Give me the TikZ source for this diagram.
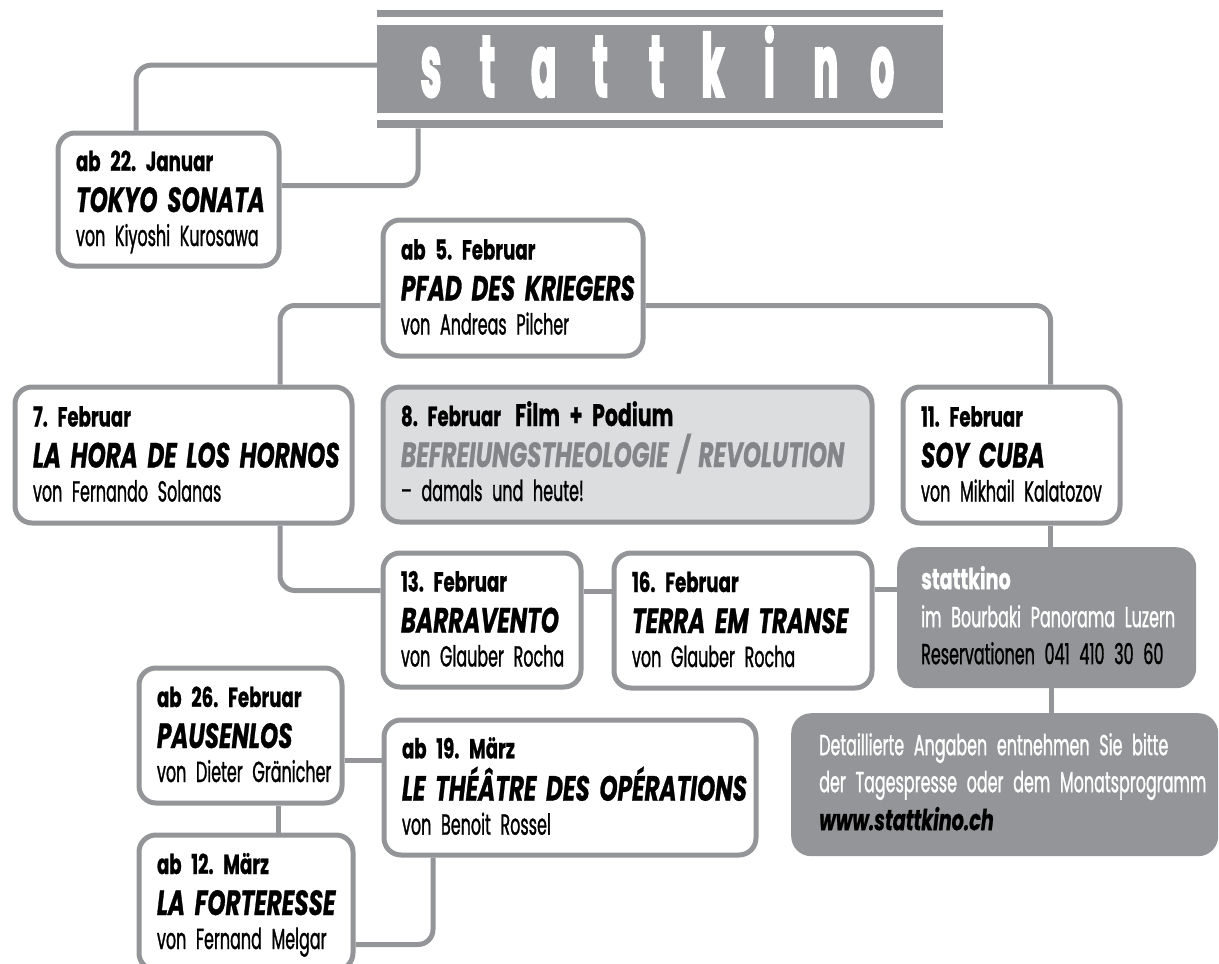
\documentclass[tikz,border=0pt]{standalone}
\usepackage{fontspec}
\setmainfont{Poppins}[FakeStretch=0.55, WordSpace=0.6, FakeBold=1]
\newfontfamily\heavyf{Poppins}[FakeStretch=0.66, WordSpace=0.6, FakeBold=0.8]
\newfontfamily\logofont{Poppins}[FakeStretch=0.42, FakeBold=2]
\usetikzlibrary{positioning}

\definecolor{kgray}{HTML}{939598}
\definecolor{podfill}{HTML}{DCDDDF}
\definecolor{podtext}{HTML}{838588}

\newcommand\datef{\heavyf\fontsize{27.5}{34}\selectfont\bfseries}
\newcommand\titlef{\heavyf\fontsize{35}{34}\selectfont\bfseries\itshape}
\newcommand\film[3]{\rule{0pt}{26pt}\mbox{\datef #1}\\[7pt]\mbox{\titlef #2}\\\mbox{#3}\rule[-8pt]{0pt}{8pt}}

\begin{document}
\frenchspacing
\begin{tikzpicture}[x=1pt,y=-1pt,
    film/.style={draw=kgray, line width=5pt, rounded corners=17pt, fill=white, anchor=north west,
        inner xsep=18pt, inner ysep=0pt, align=left, font=\fontsize{29}{34}\selectfont},
    infobox/.style={fill=kgray, rounded corners=20pt, anchor=north west, inner xsep=24pt,
        inner ysep=0pt, align=left, text=white, font=\fontsize{29}{34}\selectfont},
    bar/.style={fill=kgray, inner sep=0pt, anchor=north west, minimum width=566pt},
    logo/.style={text=white, font=\logofont\fontsize{88}{88}\selectfont\bfseries, anchor=base, inner sep=0pt},
    link/.style={draw=kgray, line width=5pt, rounded corners=15pt}]
    \useasboundingbox (0,0) rectangle (1219,964);
    \clip (0,0) rectangle (1219,964);

    % 标题
    \node[bar, minimum height=7pt] (ruletop) at (377,10) {};
    \node[bar, minimum height=88pt] (banner) at (377,25) {};
    \node[bar, minimum height=8pt] (rulelow) at (377,120) {};
    \foreach \c [count=\i from 0] in {s,t,a,t,t,k,i,n,o}
        \node[logo] (logo\i) at ({431+56.4*\i},97) {\c};

    % 影片
    \node[film, text width=185pt, minimum height=133pt] (tokyo) at (55.5,130.5)
        {\film{ab 22. Januar}{TOKYO SONATA}{von Kiyoshi Kurosawa}};
    \node[film, text width=224pt, minimum height=136pt] (pfad) at (380.5,217.5)
        {\film{ab 5. Februar}{PFAD DES KRIEGERS}{von Andreas Pilcher}};
    \node[film, text width=301pt, minimum height=136pt] (hora) at (12.5,384.5)
        {\film{7. Februar}{LA HORA DE LOS HORNOS}{von Fernando Solanas}};
    \node[film, fill=podfill, text width=453pt, minimum height=135pt] (podium) at (380.5,384.5)
        {\rule{0pt}{26pt}\mbox{\datef 8. Februar}\hspace{14pt}\mbox{\heavyf\fontsize{31}{34}\selectfont\bfseries Film + Podium}\\[7pt]%
         \mbox{\titlef\color{podtext}BEFREIUNGSTHEOLOGIE / REVOLUTION}\\\mbox{– damals und heute!}\rule[-8pt]{0pt}{8pt}};
    \node[film, text width=181pt, minimum height=136pt] (cuba) at (900.5,384.5)
        {\film{11. Februar}{SOY CUBA}{von Mikhail Kalatozov}};
    \node[film, text width=162pt, minimum height=134pt] (barra) at (380.5,550.5)
        {\film{13. Februar}{BARRAVENTO}{von Glauber Rocha}};
    \node[film, text width=222pt, minimum height=135pt] (terra) at (611.5,550.5)
        {\film{16. Februar}{TERRA EM TRANSE}{von Glauber Rocha}};
    \node[film, text width=167pt, minimum height=135pt] (pausen) at (136.5,665.5)
        {\film{ab 26. Februar}{PAUSENLOS}{von Dieter Gränicher}};
    \node[film, text width=336pt, minimum height=135pt] (theatre) at (381.5,717.5)
        {\film{ab 19. März}{LE THÉÂTRE DES OPÉRATIONS}{von Benoit Rossel}};
    \node[film, text width=178pt, minimum height=135pt] (forteresse) at (136.5,832.5)
        {\film{ab 12. März}{LA FORTERESSE}{von Fernand Melgar}};

    % 信息
    \node[infobox, text width=251pt, minimum height=141pt] (info) at (897,547)
        {\rule{0pt}{26pt}\mbox{\heavyf\fontsize{29}{34}\selectfont\bfseries stattkino}\\[4pt]\mbox{im Bourbaki Panorama Luzern}\\[3pt]%
         \mbox{\color{black}Reservationen 041 410 30 60}\rule[-8pt]{0pt}{8pt}};
    \node[infobox, inner xsep=28pt, text width=371pt, minimum height=143pt] (detail) at (791,713)
        {\rule{0pt}{26pt}\mbox{Detaillierte Angaben entnehmen Sie bitte}\\[3pt]\mbox{der Tagespresse oder dem Monatsprogramm}\\[4pt]%
         \mbox{\color{black}\heavyf\bfseries\itshape www.stattkino.ch}\rule[-10pt]{0pt}{10pt}};

    % 连线
    \draw[link] ([yshift=4pt]banner.west) -| ([xshift=80.5pt]tokyo.north west);
    \draw[link] ([yshift=14pt]tokyo.east) -| ([xshift=41pt]rulelow.south west);
    \draw[link] ([yshift=-17.5pt]pfad.west) -| ([xshift=267.5pt]hora.north west);
    \draw[link] ([yshift=-17.5pt]pfad.east) -| ([xshift=150pt]cuba.north west);
    \draw[link] ([xshift=267.5pt]hora.south west) |- ([yshift=29.5pt]barra.west);
    \draw[link] ([yshift=29pt]barra.east) -- ([yshift=29pt]barra.east -| terra.west);
    \draw[link] ([yshift=31pt]terra.east) -- ([yshift=31pt]terra.east -| info.west);
    \draw[link] ([xshift=150pt]cuba.south west) -- ([xshift=150pt]cuba.south west |- info.north);
    \draw[link] ([xshift=154pt]info.south west) -- ([xshift=154pt]info.south west |- detail.north);
    \draw[link] ([yshift=-25pt]pausen.east) -- ([yshift=-25pt]pausen.east -| theatre.west);
    \draw[link] ([xshift=141.5pt]pausen.south west) -- ([xshift=141.5pt]pausen.south west |- forteresse.north);
    \draw[link] ([yshift=-42pt]forteresse.east) -| ([xshift=51.5pt]theatre.south west);
\end{tikzpicture}
\end{document}
